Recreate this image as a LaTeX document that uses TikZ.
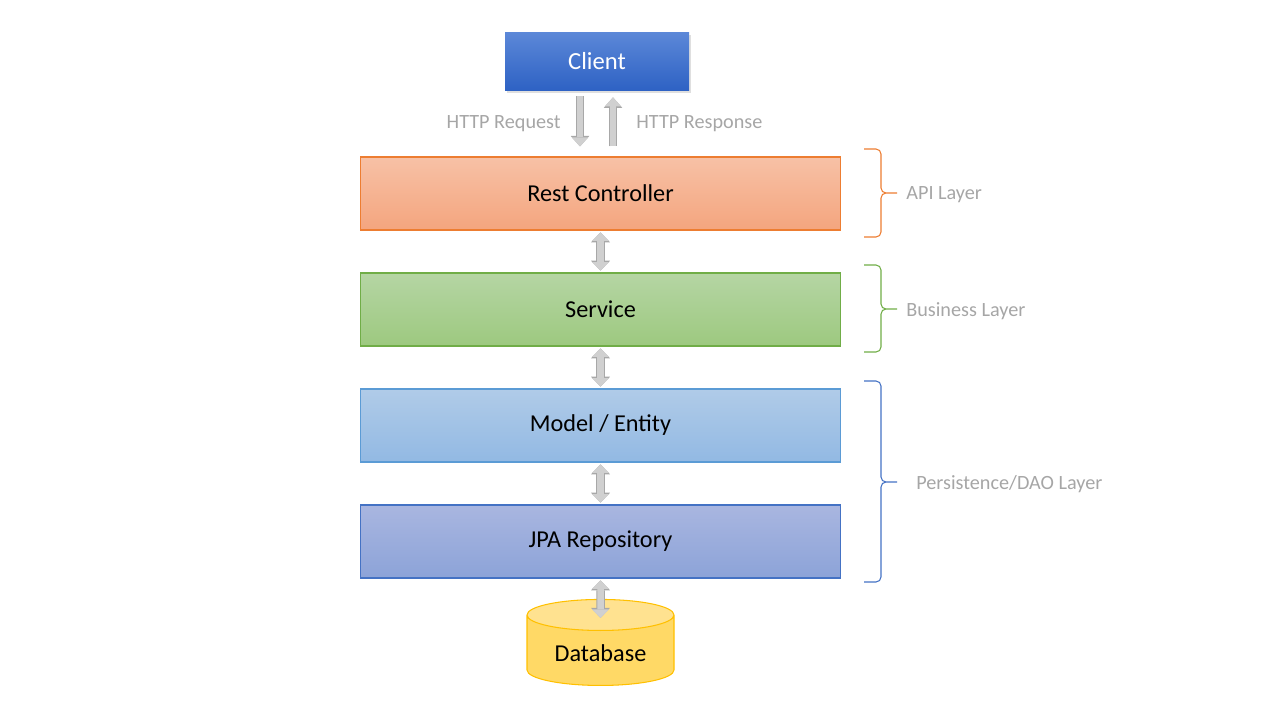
\documentclass[tikz,border=0pt]{standalone}
\usepackage{fontspec}
\setmainfont{Carlito}
\usetikzlibrary{positioning, calc, shapes.geometric, shadows, arrows.meta}

\definecolor{clientTop}{HTML}{5C88D8}
\definecolor{clientBot}{HTML}{2E62C4}
\definecolor{rcTop}{HTML}{F7C1A6}
\definecolor{rcBot}{HTML}{F4A57E}
\definecolor{rcLine}{HTML}{ED7D31}
\definecolor{svcTop}{HTML}{B5D5A4}
\definecolor{svcBot}{HTML}{9DC97F}
\definecolor{svcLine}{HTML}{70AD47}
\definecolor{entTop}{HTML}{B0CBE8}
\definecolor{entBot}{HTML}{92B9E3}
\definecolor{entLine}{HTML}{5B9BD5}
\definecolor{repoTop}{HTML}{A9B6E0}
\definecolor{repoBot}{HTML}{8CA3D8}
\definecolor{repoLine}{HTML}{4472C4}
\definecolor{dbBody}{HTML}{FFD966}
\definecolor{dbTop}{HTML}{FFE290}
\definecolor{dbLine}{HTML}{FFC000}
\definecolor{noteGray}{HTML}{A6A6A6}
\definecolor{flowFill}{HTML}{D0D0D0}
\definecolor{flowLine}{HTML}{A8A8A8}

\begin{document}
\begin{tikzpicture}[
    node distance=2.32cm,
    on grid,
    layer/.style={draw, line width=0.6pt, minimum width=9.6cm, minimum height=1.46cm, font=\fontsize{13.8}{16}\selectfont},
    note/.style={text=noteGray, inner sep=0pt, font=\fontsize{11.5}{14}\selectfont},
    bracket/.style={line width=0.6pt, rounded corners=0.1cm},
    flow/.style={draw=flowFill, line width=0.13cm, shorten <=1pt, shorten >=1pt,
        {Triangle[width=0.34cm,length=0.17cm,line width=0pt]}-{Triangle[width=0.34cm,length=0.17cm,line width=0pt]},
        preaction={draw=flowLine, line width=0.17cm,
        {Triangle[width=0.38cm,length=0.2cm,line width=0pt]}-{Triangle[width=0.38cm,length=0.2cm,line width=0pt]}}},
    oneway/.style={draw=flowFill, line width=0.13cm,
        -{Triangle[width=0.33cm,length=0.18cm,line width=0pt]},
        preaction={draw=flowLine, line width=0.17cm,
        -{Triangle[width=0.37cm,length=0.21cm,line width=0pt]}}}
]

   \useasboundingbox (0,0) rectangle (25.6,-14.4);

   % Layers
   \node[layer, draw=rcLine, top color=rcTop, bottom color=rcBot] (rc) at (12.01,-3.87) {Rest Controller};
   \node[layer, draw=svcLine, top color=svcTop, bottom color=svcBot] (svc) [below=of rc] {Service};
   \node[layer, draw=entLine, top color=entTop, bottom color=entBot] (ent) [below=of svc] {Model / Entity};
   \node[layer, draw=repoLine, top color=repoTop, bottom color=repoBot] (repo) [below=of ent] {JPA Repository};
   \node[cylinder, shape border rotate=90, aspect=0.3, draw=dbLine, line width=0.6pt,
         cylinder uses custom fill, cylinder body fill=dbBody, cylinder end fill=dbTop,
         minimum width=2.94cm, minimum height=1.72cm, font=\fontsize{13.8}{16}\selectfont] (db) [below=2.24cm of repo] {Database};
   \node[minimum width=3.68cm, minimum height=1.16cm, top color=clientTop, bottom color=clientBot, text=white,
         drop shadow={opacity=0.25, shadow xshift=0.03cm, shadow yshift=-0.05cm},
         font=\fontsize{14}{16}\selectfont, xshift=-0.07cm] (client) [above=2.65cm of rc] {Client};

   % Requests
   \draw[oneway, shorten <=0.12cm, shorten >=0.2cm] ($(client.south)+(-0.34,0)$) -- ($(client.south |- rc.north)+(-0.34,0)$);
   \draw[oneway, shorten <=0.2cm, shorten >=0.14cm] ($(client.south |- rc.north)+(0.32,0)$) -- ($(client.south)+(0.32,0)$);
   \node[note, anchor=east] (req) at (11.22,-2.48) {HTTP Request};
   \node[note, anchor=west] (resp) at (12.72,-2.48) {HTTP Response};

   % Calls between layers
   \draw[flow] (rc.south) -- (svc.north);
   \draw[flow] (svc.south) -- (ent.north);
   \draw[flow] (ent.south) -- (repo.north);
   \draw[flow, shorten >=-0.38cm] (repo.south) -- (db.north);

   % Layer braces
   \draw[bracket, rcLine] (17.28,-2.98) -- (17.62,-2.98) -- (17.62,-3.86) -- (17.94,-3.86)
                          (17.28,-4.74) -- (17.62,-4.74) -- (17.62,-3.86) -- (17.94,-3.86);
   \draw[bracket, svcLine] (17.28,-5.30) -- (17.62,-5.30) -- (17.62,-6.18) -- (17.94,-6.18)
                           (17.28,-7.04) -- (17.62,-7.04) -- (17.62,-6.18) -- (17.94,-6.18);
   \draw[bracket, repoLine] (17.28,-7.62) -- (17.62,-7.62) -- (17.62,-9.64) -- (17.94,-9.64)
                            (17.28,-11.64) -- (17.62,-11.64) -- (17.62,-9.64) -- (17.94,-9.64);
   \node[note, anchor=west] (api) at (18.12,-3.9) {API Layer};
   \node[note, anchor=west] (biz) at (18.12,-6.22) {Business Layer};
   \node[note, anchor=west] (dao) at (18.32,-9.68) {Persistence/DAO Layer};

\end{tikzpicture}
\end{document}
